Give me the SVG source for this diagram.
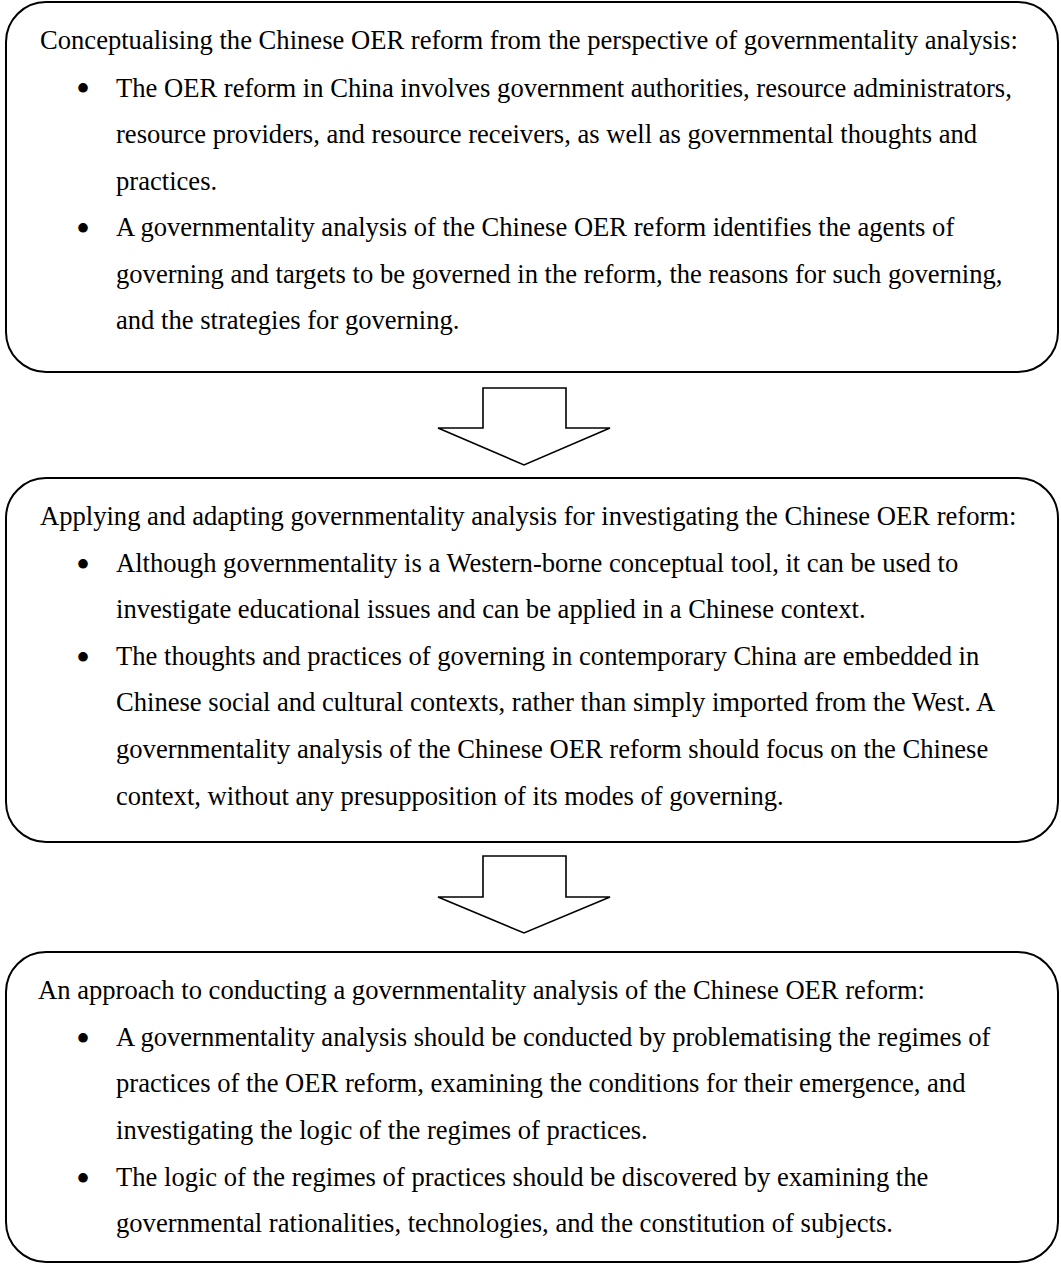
<svg xmlns="http://www.w3.org/2000/svg" width="1061" height="1265" viewBox="0 0 1061 1265">
<style>
.box{fill:#fff;stroke:#000;stroke-width:2}
.arr{fill:#fff;stroke:#000;stroke-width:1.6;stroke-linejoin:miter}
text{font-family:"Liberation Serif","Times New Roman",serif;font-size:26.6px;fill:#000}
.bul{font-size:40px}
</style>
<rect width="1061" height="1265" fill="#fff"/>
<g id="connectors">
<polygon class="arr" points="483,388 566,388 566,428 610,428 524,465 438,428 483,428"/>
<polygon class="arr" points="483,856 566,856 566,897 610,897 524,933 438,897 483,897"/>
</g>
<g id="node1">
<rect class="box" x="6" y="2" width="1052" height="370" rx="40" ry="40"/>
<text x="40" y="49">Conceptualising the Chinese OER reform from the perspective of governmentality analysis:</text>
<text class="bul" x="76" y="102">•</text>
<text x="116" y="96.5">The OER reform in China involves government authorities, resource administrators,</text>
<text x="116" y="143">resource providers, and resource receivers, as well as governmental thoughts and</text>
<text x="116" y="189.5">practices.</text>
<text class="bul" x="76" y="241.5">•</text>
<text x="116" y="236">A governmentality analysis of the Chinese OER reform identifies the agents of</text>
<text x="116" y="282.5">governing and targets to be governed in the reform, the reasons for such governing,</text>
<text x="116" y="329">and the strategies for governing.</text>
</g>
<g id="node2">
<rect class="box" x="6" y="478" width="1052" height="364" rx="40" ry="40"/>
<text x="40" y="525">Applying and adapting governmentality analysis for investigating the Chinese OER reform:</text>
<text class="bul" x="76" y="577.5">•</text>
<text x="116" y="572">Although governmentality is a Western-borne conceptual tool, it can be used to</text>
<text x="116" y="618">investigate educational issues and can be applied in a Chinese context.</text>
<text class="bul" x="76" y="670.5">•</text>
<text x="116" y="665">The thoughts and practices of governing in contemporary China are embedded in</text>
<text x="116" y="711">Chinese social and cultural contexts, rather than simply imported from the West. A</text>
<text x="116" y="758">governmentality analysis of the Chinese OER reform should focus on the Chinese</text>
<text x="116" y="805">context, without any presupposition of its modes of governing.</text>
</g>
<g id="node3">
<rect class="box" x="6" y="952" width="1052" height="310" rx="40" ry="40"/>
<text x="38" y="999">An approach to conducting a governmentality analysis of the Chinese OER reform:</text>
<text class="bul" x="76" y="1051.5">•</text>
<text x="116" y="1046">A governmentality analysis should be conducted by problematising the regimes of</text>
<text x="116" y="1092">practices of the OER reform, examining the conditions for their emergence, and</text>
<text x="116" y="1139">investigating the logic of the regimes of practices.</text>
<text class="bul" x="76" y="1191.5">•</text>
<text x="116" y="1186">The logic of the regimes of practices should be discovered by examining the</text>
<text x="116" y="1232">governmental rationalities, technologies, and the constitution of subjects.</text>
</g>
</svg>
